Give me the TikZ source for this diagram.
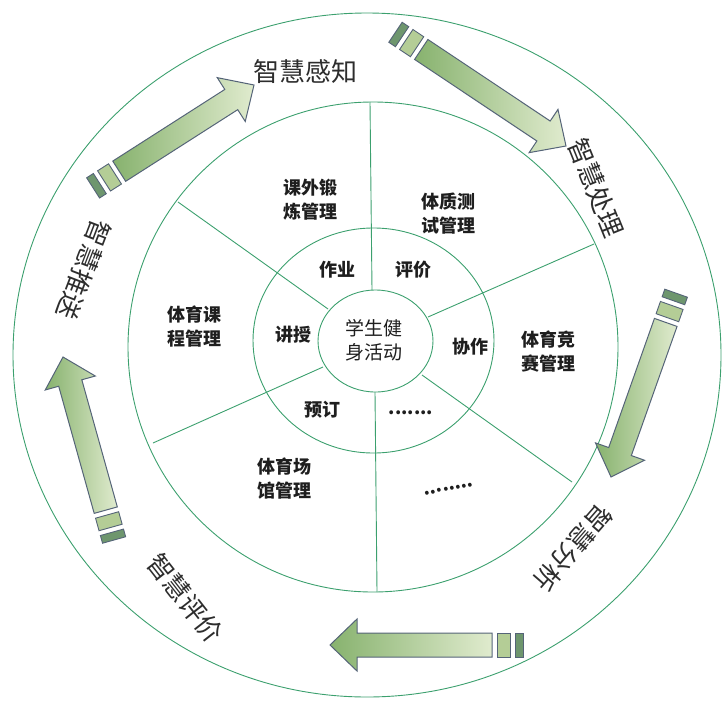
\documentclass[tikz,border=0pt]{standalone}
\usepackage{fontspec}
\newfontfamily\cjk{Noto Sans CJK SC}
\usetikzlibrary{calc}
\definecolor{ring}{RGB}{60,160,110}
\definecolor{aline}{RGB}{85,100,120}
\definecolor{gdark}{RGB}{135,178,110}
\definecolor{glight}{RGB}{224,235,206}
\definecolor{bardark}{RGB}{110,150,110}
\definecolor{barlight}{RGB}{180,205,150}
\definecolor{txt}{RGB}{30,30,30}
\definecolor{otxt}{RGB}{45,45,45}
\newcommand\blockarrow[4]{%
\begin{scope}[shift={(#1,#2)},rotate=#3]
 \path[draw=aline, line width=1pt, left color=gdark, right color=glight, line join=miter]
   (0,0) -- (27,26) -- (27,12) -- (#4-31,12) -- (#4-31,-12) -- (27,-12) -- (27,-26) -- cycle;
 \path[draw=aline, line width=0.9pt, fill=barlight] (#4-26,12) rectangle (#4-13,-12);
 \path[draw=aline, line width=0.9pt, fill=bardark] (#4-8,12) rectangle (#4,-12);
\end{scope}}
\tikzset{
 ringline/.style={draw=ring, line width=0.9pt},
 inlabel/.style={font=\cjk\bfseries\fontsize{18}{24}\selectfont, text=txt, align=center, inner sep=0pt},
 ctrlabel/.style={font=\cjk\fontsize{19}{24}\selectfont, text=txt, align=center, inner sep=0pt},
 outlabel/.style={font=\cjk\fontsize{26}{30}\selectfont, text=otxt, inner sep=0pt}
}
\begin{document}
\begin{tikzpicture}[x=1pt,y=-1pt]
\useasboundingbox (0,0) rectangle (725,702);
% rings
\draw[ringline] (367,355) ellipse [x radius=354, y radius=342];
\draw[ringline] (373,347) circle [radius=245];
\draw[ringline] (373.5,340.5) ellipse [x radius=120.5, y radius=112.5];
\draw[ringline] (375.5,341) ellipse [x radius=57.5, y radius=51];
% spoke end points
\coordinate (t1) at (370,102); \coordinate (t0) at (372,290);
\coordinate (b1) at (377,592); \coordinate (b0) at (375,392);
\coordinate (ul1) at (178,202); \coordinate (ul0) at (328,309);
\coordinate (ur1) at (594,244); \coordinate (ur0) at (428,317);
\coordinate (ll1) at (153,443); \coordinate (ll0) at (323,367);
\coordinate (lr1) at (572,482); \coordinate (lr0) at (422,375);
\foreach \s in {t,b,ul,ur,ll,lr} \draw[ringline] (\s0) -- (\s1);
% arrows
\blockarrow{254}{85}{212.6}{191}
\blockarrow{566}{146}{146.3}{205}
\blockarrow{611}{477}{70.5}{195}
\blockarrow{330}{645}{0}{193}
\blockarrow{63}{357}{-74.4}{190}
% outer labels
\node[outlabel] (gz) at (305,72) {智慧感知};
\node[outlabel, rotate=-68] (cl) at (596,188) {智慧处理};
\node[outlabel, rotate=-131] (fx) at (573,548) {智慧分析};
\node[outlabel, rotate=-52] (pjo) at (185,598) {智慧评价};
\node[outlabel, rotate=-111] (ts) at (84,270) {智慧推送};
% middle ring labels
\node[inlabel] (kw) at (310,200) {课外锻\\炼管理};
\node[inlabel] (tz) at (448,214) {体质测\\试管理};
\node[inlabel] (kc) at (194,327) {体育课\\程管理};
\node[inlabel] (js) at (548,352) {体育竞\\赛管理};
\node[inlabel] (cg) at (284,479) {体育场\\馆管理};
\node[inlabel, rotate=10] (d2) at (449,489) {........};
% inner ring labels
\node[inlabel] (zy) at (337,270) {作业};
\node[inlabel] (pj) at (413,270) {评价};
\node[inlabel] (jsh) at (293,335) {讲授};
\node[inlabel] (xz) at (470,347) {协作};
\node[inlabel] (yd) at (322,410) {预订};
\node[inlabel] (d1) at (411,413) {.......};
% centre
\node[ctrlabel] (ctr) at (374,340) {学生健\\身活动};
\end{tikzpicture}
\end{document}
